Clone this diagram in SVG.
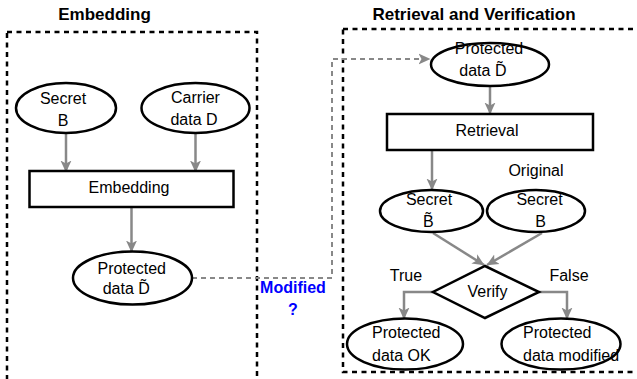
<svg xmlns="http://www.w3.org/2000/svg" width="637" height="379" viewBox="0 0 637 379">
<style>
text{font-family:"Liberation Sans",Arial,sans-serif;font-size:16px;fill:#000}
.t{font-weight:bold;font-size:17px;text-anchor:middle}
.m{text-anchor:middle}
.s{text-anchor:start}
.shape{fill:#fff;stroke:#000;stroke-width:2.5}
.frame{fill:none;stroke:#000;stroke-width:2.5;stroke-dasharray:5 4.5}
.c{fill:none;stroke:#888;stroke-width:2.5;marker-end:url(#ah)}
.d{fill:none;stroke:#888;stroke-width:2;stroke-dasharray:5 4;marker-end:url(#ah)}
.blue{fill:#0000ff;font-weight:bold;text-anchor:middle}
</style>
<defs>
<marker id="ah" viewBox="0 0 12 12" refX="11.5" refY="6" markerWidth="12" markerHeight="12" orient="auto" markerUnits="userSpaceOnUse">
<path d="M0,0.5 L12,6 L0,11.5 L3,6 Z" fill="#888"/>
</marker>
</defs>
<rect width="637" height="379" fill="#fff"/>

<g id="frame-embedding">
<rect class="frame" x="7" y="32" width="250" height="380"/>
<text class="t" x="104.5" y="20">Embedding</text>
</g>
<g id="frame-retrieval">
<rect class="frame" x="343" y="29" width="320" height="343"/>
<text class="t" x="474" y="20">Retrieval and Verification</text>
</g>

<g id="connectors">
<line class="c" x1="66" y1="133" x2="66" y2="172"/>
<line class="c" x1="195.5" y1="133" x2="195.5" y2="172"/>
<line class="c" x1="131.5" y1="207" x2="131.5" y2="252"/>
<polyline class="d" points="192,278 332,278 332,59 430,59"/>
<line class="c" x1="490" y1="86" x2="490" y2="114"/>
<line class="c" x1="432" y1="150" x2="432" y2="190"/>
<line class="c" x1="433" y1="233" x2="484" y2="265"/>
<line class="c" x1="542" y1="233" x2="487" y2="265"/>
<polyline class="c" points="433,292 404,292 404,319"/>
<polyline class="c" points="539,292 567,292 567,319"/>
</g>

<g id="secret-b">
<ellipse class="shape" cx="66" cy="108" rx="50" ry="25"/>
<text class="m" x="63" y="104">Secret</text>
<text class="m" x="63" y="126">B</text>
</g>
<g id="carrier-data">
<ellipse class="shape" cx="195.5" cy="108" rx="54" ry="25"/>
<text class="m" x="195.5" y="102.5">Carrier</text>
<text class="m" x="194" y="125">data D</text>
</g>
<g id="embedding">
<rect class="shape" x="29.5" y="171" width="204" height="36"/>
<text class="m" x="129" y="193">Embedding</text>
</g>
<g id="protected-left">
<ellipse class="shape" cx="132.5" cy="278" rx="59.5" ry="26.5"/>
<text class="m" x="131.7" y="273.5">Protected</text>
<text class="s" x="102.7" y="293.5">data D̃</text>
</g>
<g id="modified-label">
<text class="blue" x="293" y="292.5">Modified</text>
<text class="blue" x="293" y="315">?</text>
</g>
<g id="protected-right">
<ellipse class="shape" cx="490" cy="64.5" rx="59" ry="21.5"/>
<text class="m" x="489" y="53.5">Protected</text>
<text class="s" x="459.3" y="76">data D̃</text>
</g>
<g id="retrieval">
<rect class="shape" x="387" y="114" width="206" height="36"/>
<text class="m" x="487" y="136">Retrieval</text>
</g>
<text class="m" x="536" y="176">Original</text>
<g id="secret-b-tilde">
<ellipse class="shape" cx="431.5" cy="211" rx="51.5" ry="21"/>
<text class="m" x="429" y="205">Secret</text>
<text class="m" x="428.3" y="227">B̃</text>
</g>
<g id="secret-b-original">
<ellipse class="shape" cx="536" cy="211" rx="49" ry="21"/>
<text class="m" x="539.5" y="205">Secret</text>
<text class="m" x="540.5" y="227">B</text>
</g>
<g id="verify">
<polygon class="shape" points="485,266 539,292 485,318 433,292"/>
<text class="m" x="487.5" y="297">Verify</text>
</g>
<text class="m" x="406" y="281">True</text>
<text class="m" x="569" y="281">False</text>
<g id="data-ok">
<ellipse class="shape" cx="405" cy="344" rx="58" ry="25.5"/>
<text class="s" x="372" y="338.3">Protected</text>
<text class="s" x="372" y="360.7">data OK</text>
</g>
<g id="data-modified">
<ellipse class="shape" cx="561" cy="344" rx="59.5" ry="25.5"/>
<text class="s" x="523" y="338.3">Protected</text>
<text class="s" x="523" y="360.5">data modified</text>
</g>
</svg>
